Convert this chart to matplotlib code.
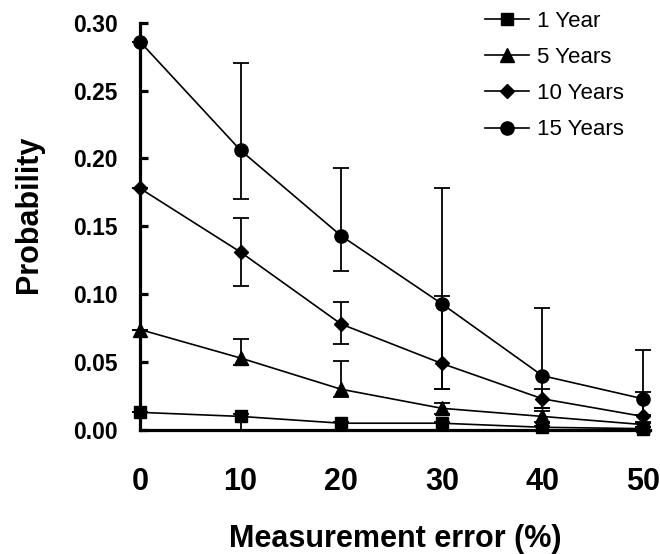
import matplotlib
matplotlib.use("Agg")
import matplotlib.pyplot as plt

plt.rcParams['font.family'] = ['Liberation Sans', 'DejaVu Sans']

x = [0, 10, 20, 30, 40, 50]
y_1yr = [0.013, 0.010, 0.005, 0.005, 0.002, 0.001]
y_5yr = [0.074, 0.053, 0.030, 0.016, 0.010, 0.004]
y_10yr = [0.178, 0.131, 0.078, 0.049, 0.023, 0.010]
y_15yr = [0.286, 0.206, 0.143, 0.093, 0.040, 0.023]

err_up_1yr = [0, 0.002, 0.001, 0.001, 0.001, 0.001]
err_lo_1yr = [0, 0.010, 0.005, 0.005, 0.002, 0.001]
err_up_5yr = [0, 0.014, 0.021, 0.004, 0.004, 0.002]
err_lo_5yr = [0, 0.005, 0.006, 0.004, 0.004, 0.002]
err_up_10yr = [0, 0.025, 0.016, 0.050, 0.007, 0.018]
err_lo_10yr = [0, 0.025, 0.015, 0.019, 0.007, 0.005]
err_up_15yr = [0, 0.064, 0.050, 0.085, 0.050, 0.036]
err_lo_15yr = [0, 0.036, 0.026, 0.063, 0.024, 0.012]

labels = ['1 Year', '5 Years', '10 Years', '15 Years']
xticks = [0, 10, 20, 30, 40, 50]
yticks = [0.00, 0.05, 0.10, 0.15, 0.20, 0.25, 0.30]

fig = plt.figure(figsize=(6.6, 5.54), dpi=100)
ax = fig.add_axes([140/660, 1 - 430/554, (650-140)/660, (430-22.7)/554])

series = [
    (y_1yr, err_lo_1yr, err_up_1yr, 's', 8.5),
    (y_5yr, err_lo_5yr, err_up_5yr, '^', 9.5),
    (y_10yr, err_lo_10yr, err_up_10yr, 'D', 7.5),
    (y_15yr, err_lo_15yr, err_up_15yr, 'o', 9.5),
]

handles = []
for (ys, elo, eup, m, ms), lab in zip(series, labels):
    ax.errorbar(x, ys, yerr=[elo, eup], fmt='none', ecolor='black',
                elinewidth=1.3, capsize=6, capthick=1.3, clip_on=False, zorder=2)
    h, = ax.plot(x, ys, color='black', lw=1.2, marker=m, markersize=ms,
                 markerfacecolor='black', markeredgecolor='black',
                 clip_on=False, zorder=3, label=lab)
    handles.append(h)

ax.set_xlim(0, 50.7)
ax.set_ylim(0, 0.30)
ax.set_xticks(xticks)
ax.set_yticks(yticks)
ax.set_xticklabels([str(v) for v in xticks], fontsize=22, fontweight='bold')
ax.set_yticklabels(['%.2f' % v for v in yticks], fontsize=16.5, fontweight='bold')

for s in ['top', 'right']:
    ax.spines[s].set_visible(False)
for s in ['left', 'bottom']:
    ax.spines[s].set_linewidth(2.3)
    ax.spines[s].set_zorder(4)

ax.tick_params(axis='y', direction='in', length=6, width=2.3, pad=16)
ax.tick_params(axis='x', length=0, pad=27)

ax.set_xlabel('Measurement error (%)', fontsize=22, fontweight='bold', labelpad=19)
ax.set_ylabel('Probability', fontsize=22, fontweight='bold')
ax.yaxis.set_label_coords(-96/510, 0.53)

leg = fig.legend(handles=handles, labels=labels, loc='upper left',
                 bbox_to_anchor=(485/660, 1 - 11/554), frameon=False,
                 fontsize=16, numpoints=1, handlelength=2.0, handletextpad=0.35,
                 labelspacing=0.68, borderpad=0, borderaxespad=0)

fig.savefig('out.png', dpi=100)
